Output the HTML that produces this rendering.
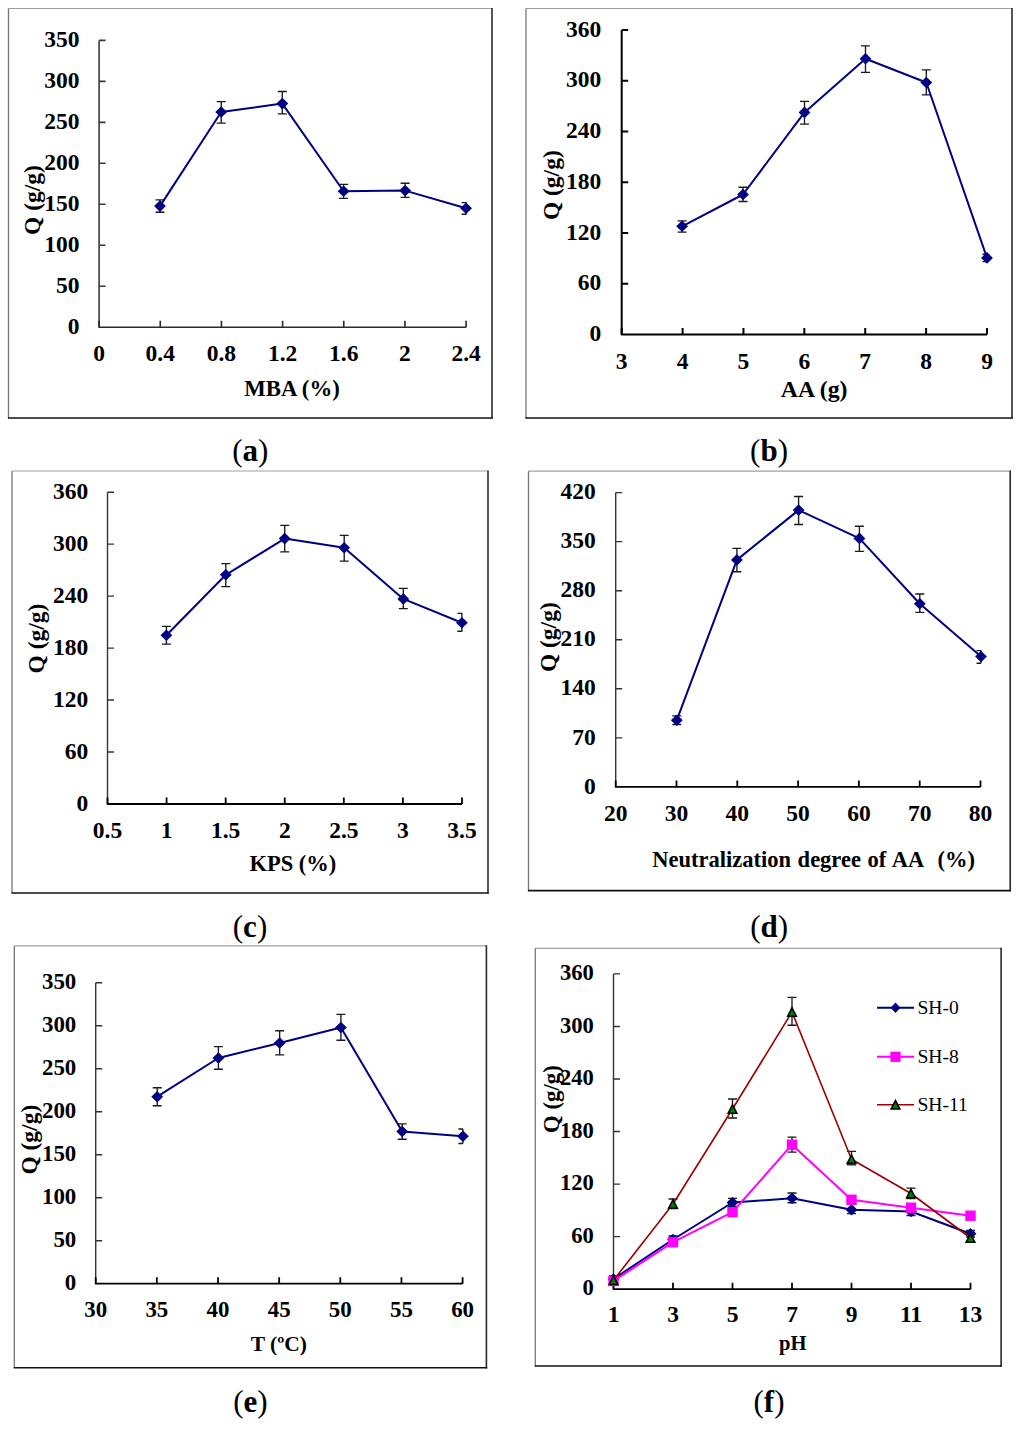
<!DOCTYPE html>
<html><head><meta charset="utf-8"><title>Figure</title>
<style>
html,body{margin:0;padding:0;background:#fff;}
body{width:1024px;height:1433px;overflow:hidden;}
svg{display:block;}
svg text{font-family:"Liberation Serif",serif;font-weight:bold;fill:#000;}
</style></head>
<body>
<svg width="1024" height="1433" viewBox="0 0 1024 1433">
<rect width="1024" height="1433" fill="#fff"/>
<line x1="8.5" y1="8.5" x2="492" y2="8.5" stroke="#a0a0a0" stroke-width="1.2"/>
<line x1="8.5" y1="8.5" x2="8.5" y2="418" stroke="#777" stroke-width="1.3"/>
<line x1="492" y1="7.9" x2="492" y2="418.6" stroke="#2a2a2a" stroke-width="1.6"/>
<line x1="7.9" y1="418" x2="492.8" y2="418" stroke="#111" stroke-width="1.6"/>
<path d="M99.1 40.4V327.2M99.1 286.23h6.5M99.1 245.26h6.5M99.1 204.29h6.5M99.1 163.31h6.5M99.1 122.34h6.5M99.1 81.37h6.5M99.1 40.4h6.5" fill="none" stroke="#3a3a3a" stroke-width="1.6"/>
<path d="M99.1 320.7V327.2H466.1M160.27 327.2v-6.5M221.43 327.2v-6.5M282.6 327.2v-6.5M343.77 327.2v-6.5M404.93 327.2v-6.5M466.1 327.2v-6.5" fill="none" stroke="#2a2a2a" stroke-width="1.6" stroke-linejoin="round"/>
<text x="79.6" y="334.27" text-anchor="end" font-size="23.5">0</text>
<text x="79.6" y="293.3" text-anchor="end" font-size="23.5">50</text>
<text x="79.6" y="252.33" text-anchor="end" font-size="23.5">100</text>
<text x="79.6" y="211.36" text-anchor="end" font-size="23.5">150</text>
<text x="79.6" y="170.39" text-anchor="end" font-size="23.5">200</text>
<text x="79.6" y="129.42" text-anchor="end" font-size="23.5">250</text>
<text x="79.6" y="88.44" text-anchor="end" font-size="23.5">300</text>
<text x="79.6" y="47.47" text-anchor="end" font-size="23.5">350</text>
<text x="99.1" y="361" text-anchor="middle" font-size="23.5">0</text>
<text x="160.27" y="361" text-anchor="middle" font-size="23.5">0.4</text>
<text x="221.43" y="361" text-anchor="middle" font-size="23.5">0.8</text>
<text x="282.6" y="361" text-anchor="middle" font-size="23.5">1.2</text>
<text x="343.77" y="361" text-anchor="middle" font-size="23.5">1.6</text>
<text x="404.93" y="361" text-anchor="middle" font-size="23.5">2</text>
<text x="466.1" y="361" text-anchor="middle" font-size="23.5">2.4</text>
<text x="292" y="396" text-anchor="middle" font-size="22.8" >MBA (%)</text>
<text transform="translate(40.3 200) rotate(-90)" x="0" y="0" text-anchor="middle" font-size="23.5">Q (g/g)</text>
<path d="M160 199.9V212.2M155.5 199.9H164.5M155.5 212.2H164.5M221.2 101.6V123.1M216.7 101.6H225.7M216.7 123.1H225.7M282.3 91.5V113.8M277.8 91.5H286.8M277.8 113.8H286.8M343.6 184.3V198.4M339.1 184.3H348.1M339.1 198.4H348.1M405.1 183.2V197.3M400.6 183.2H409.6M400.6 197.3H409.6M466.1 202.6V214.2M461.6 202.6H466.6M461.6 214.2H466.6" fill="none" stroke="#1a1a1a" stroke-width="1.35"/>
<path d="M160 206.1L221.2 112L282.3 103.6L343.6 191.3L405.1 190.6L466.1 208.2" fill="none" stroke="#000080" stroke-width="2.0" stroke-linejoin="round"/>
<path d="M160 200.3L165.9 206.1L160 211.9L154.1 206.1Z" fill="#000080"/><path d="M221.2 106.2L227.1 112L221.2 117.8L215.3 112Z" fill="#000080"/><path d="M282.3 97.8L288.2 103.6L282.3 109.4L276.4 103.6Z" fill="#000080"/><path d="M343.6 185.5L349.5 191.3L343.6 197.1L337.7 191.3Z" fill="#000080"/><path d="M405.1 184.8L411 190.6L405.1 196.4L399.2 190.6Z" fill="#000080"/><path d="M466.1 202.4L472 208.2L466.1 214L460.2 208.2Z" fill="#000080"/>
<line x1="526" y1="8.5" x2="1012" y2="8.5" stroke="#a0a0a0" stroke-width="1.2"/>
<line x1="526" y1="8.5" x2="526" y2="418" stroke="#777" stroke-width="1.3"/>
<line x1="1012" y1="7.9" x2="1012" y2="418.6" stroke="#2a2a2a" stroke-width="1.6"/>
<line x1="525.4" y1="418" x2="1012.8" y2="418" stroke="#111" stroke-width="1.6"/>
<path d="M621.7 29.9V334.5M621.7 283.73h6.5M621.7 232.97h6.5M621.7 182.2h6.5M621.7 131.43h6.5M621.7 80.67h6.5M621.7 29.9h6.5" fill="none" stroke="#000" stroke-width="2.0"/>
<path d="M621.7 328V334.5H987M682.58 334.5v-6.5M743.47 334.5v-6.5M804.35 334.5v-6.5M865.23 334.5v-6.5M926.12 334.5v-6.5M987 334.5v-6.5" fill="none" stroke="#000" stroke-width="2.0" stroke-linejoin="round"/>
<text x="601.2" y="341.17" text-anchor="end" font-size="23.5">0</text>
<text x="601.2" y="290.41" text-anchor="end" font-size="23.5">60</text>
<text x="601.2" y="239.64" text-anchor="end" font-size="23.5">120</text>
<text x="601.2" y="188.87" text-anchor="end" font-size="23.5">180</text>
<text x="601.2" y="138.11" text-anchor="end" font-size="23.5">240</text>
<text x="601.2" y="87.34" text-anchor="end" font-size="23.5">300</text>
<text x="601.2" y="36.57" text-anchor="end" font-size="23.5">360</text>
<text x="621.7" y="368.7" text-anchor="middle" font-size="23.5">3</text>
<text x="682.58" y="368.7" text-anchor="middle" font-size="23.5">4</text>
<text x="743.47" y="368.7" text-anchor="middle" font-size="23.5">5</text>
<text x="804.35" y="368.7" text-anchor="middle" font-size="23.5">6</text>
<text x="865.23" y="368.7" text-anchor="middle" font-size="23.5">7</text>
<text x="926.12" y="368.7" text-anchor="middle" font-size="23.5">8</text>
<text x="987" y="368.7" text-anchor="middle" font-size="23.5">9</text>
<text x="814.1" y="397.1" text-anchor="middle" font-size="23.8" >AA (g)</text>
<text transform="translate(558.6 185.2) rotate(-90)" x="0" y="0" text-anchor="middle" font-size="23.5">Q (g/g)</text>
<path d="M682.1 220.8V232.1M677.6 220.8H686.6M677.6 232.1H686.6M743 187.2V201.5M738.5 187.2H747.5M738.5 201.5H747.5M804.5 101.3V124.1M800 101.3H809M800 124.1H809M865.5 45.8V72.3M861 45.8H870M861 72.3H870M926.3 69.9V94.9M921.8 69.9H930.8M921.8 94.9H930.8M987 254.2V261.6M982.5 254.2H987.5M982.5 261.6H987.5" fill="none" stroke="#1a1a1a" stroke-width="1.35"/>
<path d="M682.1 226.3L743 194.5L804.5 112.4L865.5 58.8L926.3 82.5L987 257.9" fill="none" stroke="#000080" stroke-width="2.0" stroke-linejoin="round"/>
<path d="M682.1 220.5L688 226.3L682.1 232.1L676.2 226.3Z" fill="#000080"/><path d="M743 188.7L748.9 194.5L743 200.3L737.1 194.5Z" fill="#000080"/><path d="M804.5 106.6L810.4 112.4L804.5 118.2L798.6 112.4Z" fill="#000080"/><path d="M865.5 53L871.4 58.8L865.5 64.6L859.6 58.8Z" fill="#000080"/><path d="M926.3 76.7L932.2 82.5L926.3 88.3L920.4 82.5Z" fill="#000080"/><path d="M987 252.1L992.9 257.9L987 263.7L981.1 257.9Z" fill="#000080"/>
<text x="250.3" y="461.2" text-anchor="middle" font-size="31" style="font-weight:normal">(<tspan style="font-weight:bold">a</tspan>)</text>
<text x="769" y="461.2" text-anchor="middle" font-size="31" style="font-weight:normal">(<tspan style="font-weight:bold">b</tspan>)</text>
<line x1="12" y1="471" x2="488" y2="471" stroke="#a0a0a0" stroke-width="1.2"/>
<line x1="12" y1="471" x2="12" y2="893" stroke="#777" stroke-width="1.3"/>
<line x1="488" y1="470.4" x2="488" y2="893.6" stroke="#2a2a2a" stroke-width="1.6"/>
<line x1="11.4" y1="893" x2="488.8" y2="893" stroke="#111" stroke-width="1.6"/>
<path d="M107.5 492.2V804M107.5 752.03h6.5M107.5 700.07h6.5M107.5 648.1h6.5M107.5 596.13h6.5M107.5 544.17h6.5M107.5 492.2h6.5" fill="none" stroke="#333" stroke-width="1.4"/>
<path d="M107.5 797.5V804H462M166.58 804v-6.5M225.67 804v-6.5M284.75 804v-6.5M343.83 804v-6.5M402.92 804v-6.5M462 804v-6.5" fill="none" stroke="#000" stroke-width="1.8" stroke-linejoin="round"/>
<text x="88.3" y="811.27" text-anchor="end" font-size="23.5">0</text>
<text x="88.3" y="759.31" text-anchor="end" font-size="23.5">60</text>
<text x="88.3" y="707.34" text-anchor="end" font-size="23.5">120</text>
<text x="88.3" y="655.37" text-anchor="end" font-size="23.5">180</text>
<text x="88.3" y="603.41" text-anchor="end" font-size="23.5">240</text>
<text x="88.3" y="551.44" text-anchor="end" font-size="23.5">300</text>
<text x="88.3" y="499.47" text-anchor="end" font-size="23.5">360</text>
<text x="107.5" y="837.7" text-anchor="middle" font-size="23.5">0.5</text>
<text x="166.58" y="837.7" text-anchor="middle" font-size="23.5">1</text>
<text x="225.67" y="837.7" text-anchor="middle" font-size="23.5">1.5</text>
<text x="284.75" y="837.7" text-anchor="middle" font-size="23.5">2</text>
<text x="343.83" y="837.7" text-anchor="middle" font-size="23.5">2.5</text>
<text x="402.92" y="837.7" text-anchor="middle" font-size="23.5">3</text>
<text x="462" y="837.7" text-anchor="middle" font-size="23.5">3.5</text>
<text x="292.9" y="870.9" text-anchor="middle" font-size="22.5" >KPS (%)</text>
<text transform="translate(44.3 638.6) rotate(-90)" x="0" y="0" text-anchor="middle" font-size="23.5">Q (g/g)</text>
<path d="M166.4 626.4V644.1M161.9 626.4H170.9M161.9 644.1H170.9M225.8 563.6V586.6M221.3 563.6H230.3M221.3 586.6H230.3M284.7 525.3V551.9M280.2 525.3H289.2M280.2 551.9H289.2M344.2 535.3V561.1M339.7 535.3H348.7M339.7 561.1H348.7M403.3 588.4V608.6M398.8 588.4H407.8M398.8 608.6H407.8M461.9 613.3V631.25M457.4 613.3H462.4M457.4 631.25H462.4" fill="none" stroke="#1a1a1a" stroke-width="1.35"/>
<path d="M166.4 635.3L225.8 574.8L284.7 538.6L344.2 547.8L403.3 598.9L461.9 622.7" fill="none" stroke="#000080" stroke-width="2.0" stroke-linejoin="round"/>
<path d="M166.4 629.5L172.3 635.3L166.4 641.1L160.5 635.3Z" fill="#000080"/><path d="M225.8 569L231.7 574.8L225.8 580.6L219.9 574.8Z" fill="#000080"/><path d="M284.7 532.8L290.6 538.6L284.7 544.4L278.8 538.6Z" fill="#000080"/><path d="M344.2 542L350.1 547.8L344.2 553.6L338.3 547.8Z" fill="#000080"/><path d="M403.3 593.1L409.2 598.9L403.3 604.7L397.4 598.9Z" fill="#000080"/><path d="M461.9 616.9L467.8 622.7L461.9 628.5L456 622.7Z" fill="#000080"/>
<line x1="528.5" y1="471.2" x2="1010.2" y2="471.2" stroke="#a0a0a0" stroke-width="1.2"/>
<line x1="528.5" y1="471.2" x2="528.5" y2="890.6" stroke="#777" stroke-width="1.3"/>
<line x1="1010.2" y1="470.59999999999997" x2="1010.2" y2="891.2" stroke="#2a2a2a" stroke-width="1.6"/>
<line x1="527.9" y1="890.6" x2="1011.0" y2="890.6" stroke="#111" stroke-width="1.6"/>
<path d="M615.7 492.6V786.9M615.7 737.85h6.5M615.7 688.8h6.5M615.7 639.75h6.5M615.7 590.7h6.5M615.7 541.65h6.5M615.7 492.6h6.5" fill="none" stroke="#333" stroke-width="1.4"/>
<path d="M615.7 780.4V786.9H980.5M676.5 786.9v-6.5M737.3 786.9v-6.5M798.1 786.9v-6.5M858.9 786.9v-6.5M919.7 786.9v-6.5M980.5 786.9v-6.5" fill="none" stroke="#000" stroke-width="1.8" stroke-linejoin="round"/>
<text x="595.7" y="793.57" text-anchor="end" font-size="23.5">0</text>
<text x="595.7" y="744.52" text-anchor="end" font-size="23.5">70</text>
<text x="595.7" y="695.47" text-anchor="end" font-size="23.5">140</text>
<text x="595.7" y="646.42" text-anchor="end" font-size="23.5">210</text>
<text x="595.7" y="597.37" text-anchor="end" font-size="23.5">280</text>
<text x="595.7" y="548.32" text-anchor="end" font-size="23.5">350</text>
<text x="595.7" y="499.27" text-anchor="end" font-size="23.5">420</text>
<text x="615.7" y="821.1" text-anchor="middle" font-size="23.5">20</text>
<text x="676.5" y="821.1" text-anchor="middle" font-size="23.5">30</text>
<text x="737.3" y="821.1" text-anchor="middle" font-size="23.5">40</text>
<text x="798.1" y="821.1" text-anchor="middle" font-size="23.5">50</text>
<text x="858.9" y="821.1" text-anchor="middle" font-size="23.5">60</text>
<text x="919.7" y="821.1" text-anchor="middle" font-size="23.5">70</text>
<text x="980.5" y="821.1" text-anchor="middle" font-size="23.5">80</text>
<text x="813.6" y="866.9" text-anchor="middle" font-size="22.5" word-spacing="1.0">Neutralization degree of AA&#160; (%)</text>
<text transform="translate(555.5 637.2) rotate(-90)" x="0" y="0" text-anchor="middle" font-size="23.5">Q (g/g)</text>
<path d="M676.8 715.9V724.5M672.3 715.9H681.3M672.3 724.5H681.3M736.9 548.3V571.7M732.4 548.3H741.4M732.4 571.7H741.4M798.6 496.5V524.5M794.1 496.5H803.1M794.1 524.5H803.1M859.4 526.2V551.3M854.9 526.2H863.9M854.9 551.3H863.9M919.8 594V612.4M915.3 594H924.3M915.3 612.4H924.3M981 650.6V663.2M976.5 650.6H981M976.5 663.2H981" fill="none" stroke="#1a1a1a" stroke-width="1.35"/>
<path d="M676.8 720.2L736.9 559.9L798.6 510.1L859.4 538.4L919.8 603.75L981 656.5" fill="none" stroke="#000080" stroke-width="2.0" stroke-linejoin="round"/>
<path d="M676.8 714.4L682.7 720.2L676.8 726L670.9 720.2Z" fill="#000080"/><path d="M736.9 554.1L742.8 559.9L736.9 565.7L731 559.9Z" fill="#000080"/><path d="M798.6 504.3L804.5 510.1L798.6 515.9L792.7 510.1Z" fill="#000080"/><path d="M859.4 532.6L865.3 538.4L859.4 544.2L853.5 538.4Z" fill="#000080"/><path d="M919.8 597.95L925.7 603.75L919.8 609.55L913.9 603.75Z" fill="#000080"/><path d="M981 650.7L986.9 656.5L981 662.3L975.1 656.5Z" fill="#000080"/>
<text x="250" y="936.5" text-anchor="middle" font-size="31" style="font-weight:normal">(<tspan style="font-weight:bold">c</tspan>)</text>
<text x="769.1" y="936.5" text-anchor="middle" font-size="31" style="font-weight:normal">(<tspan style="font-weight:bold">d</tspan>)</text>
<line x1="14.3" y1="945.9" x2="486.4" y2="945.9" stroke="#a0a0a0" stroke-width="1.2"/>
<line x1="14.3" y1="945.9" x2="14.3" y2="1367.8" stroke="#777" stroke-width="1.3"/>
<line x1="486.4" y1="945.3" x2="486.4" y2="1368.3999999999999" stroke="#2a2a2a" stroke-width="1.6"/>
<line x1="13.700000000000001" y1="1367.8" x2="487.2" y2="1367.8" stroke="#111" stroke-width="1.6"/>
<path d="M95.7 982.8V1283.7M95.7 1240.71h6.5M95.7 1197.73h6.5M95.7 1154.74h6.5M95.7 1111.76h6.5M95.7 1068.77h6.5M95.7 1025.79h6.5M95.7 982.8h6.5" fill="none" stroke="#333" stroke-width="1.4"/>
<path d="M95.7 1277.2V1283.7H462.6M156.85 1283.7v-6.5M218 1283.7v-6.5M279.15 1283.7v-6.5M340.3 1283.7v-6.5M401.45 1283.7v-6.5M462.6 1283.7v-6.5" fill="none" stroke="#000" stroke-width="1.8" stroke-linejoin="round"/>
<text x="76.3" y="1290.37" text-anchor="end" font-size="22.9">0</text>
<text x="76.3" y="1247.39" text-anchor="end" font-size="22.9">50</text>
<text x="76.3" y="1204.4" text-anchor="end" font-size="22.9">100</text>
<text x="76.3" y="1161.41" text-anchor="end" font-size="22.9">150</text>
<text x="76.3" y="1118.43" text-anchor="end" font-size="22.9">200</text>
<text x="76.3" y="1075.44" text-anchor="end" font-size="22.9">250</text>
<text x="76.3" y="1032.46" text-anchor="end" font-size="22.9">300</text>
<text x="76.3" y="989.47" text-anchor="end" font-size="22.9">350</text>
<text x="95.7" y="1317.3" text-anchor="middle" font-size="22.9">30</text>
<text x="156.85" y="1317.3" text-anchor="middle" font-size="22.9">35</text>
<text x="218" y="1317.3" text-anchor="middle" font-size="22.9">40</text>
<text x="279.15" y="1317.3" text-anchor="middle" font-size="22.9">45</text>
<text x="340.3" y="1317.3" text-anchor="middle" font-size="22.9">50</text>
<text x="401.45" y="1317.3" text-anchor="middle" font-size="22.9">55</text>
<text x="462.6" y="1317.3" text-anchor="middle" font-size="22.9">60</text>
<text x="278.9" y="1351.25" text-anchor="middle" font-size="21.5" >T (&#186;C)</text>
<text transform="translate(37.3 1139.7) rotate(-90)" x="0" y="0" text-anchor="middle" font-size="23.5">Q (g/g)</text>
<path d="M157.2 1087.7V1105.7M152.7 1087.7H161.7M152.7 1105.7H161.7M218.4 1046.6V1069.2M213.9 1046.6H222.9M213.9 1069.2H222.9M279.65 1030.7V1054.8M275.15 1030.7H284.15M275.15 1054.8H284.15M340.9 1014.4V1040.2M336.4 1014.4H345.4M336.4 1040.2H345.4M402.2 1123.8V1139.2M397.7 1123.8H406.7M397.7 1139.2H406.7M462.9 1129V1143.5M458.4 1129H463M458.4 1143.5H463" fill="none" stroke="#1a1a1a" stroke-width="1.35"/>
<path d="M157.2 1096.7L218.4 1058L279.65 1043L340.9 1027.5L402.2 1131.5L462.9 1136.2" fill="none" stroke="#000080" stroke-width="2.0" stroke-linejoin="round"/>
<path d="M157.2 1090.9L163.1 1096.7L157.2 1102.5L151.3 1096.7Z" fill="#000080"/><path d="M218.4 1052.2L224.3 1058L218.4 1063.8L212.5 1058Z" fill="#000080"/><path d="M279.65 1037.2L285.55 1043L279.65 1048.8L273.75 1043Z" fill="#000080"/><path d="M340.9 1021.7L346.8 1027.5L340.9 1033.3L335 1027.5Z" fill="#000080"/><path d="M402.2 1125.7L408.1 1131.5L402.2 1137.3L396.3 1131.5Z" fill="#000080"/><path d="M462.9 1130.4L468.8 1136.2L462.9 1142L457 1136.2Z" fill="#000080"/>
<line x1="535.3" y1="948.3" x2="1001.1" y2="948.3" stroke="#a0a0a0" stroke-width="1.2"/>
<line x1="535.3" y1="948.3" x2="535.3" y2="1366" stroke="#777" stroke-width="1.3"/>
<line x1="1001.1" y1="947.6999999999999" x2="1001.1" y2="1366.6" stroke="#2a2a2a" stroke-width="1.6"/>
<line x1="534.6999999999999" y1="1366" x2="1001.9" y2="1366" stroke="#111" stroke-width="1.6"/>
<path d="M613.5 973.9V1289.2M613.5 1236.65h6.5M613.5 1184.1h6.5M613.5 1131.55h6.5M613.5 1079h6.5M613.5 1026.45h6.5M613.5 973.9h6.5" fill="none" stroke="#333" stroke-width="1.4"/>
<path d="M613.5 1282.7V1289.2H970.5M673 1289.2v-6.5M732.5 1289.2v-6.5M792 1289.2v-6.5M851.5 1289.2v-6.5M911 1289.2v-6.5M970.5 1289.2v-6.5" fill="none" stroke="#000" stroke-width="1.8" stroke-linejoin="round"/>
<text x="593.9" y="1295.27" text-anchor="end" font-size="22.6">0</text>
<text x="593.9" y="1242.72" text-anchor="end" font-size="22.6">60</text>
<text x="593.9" y="1190.17" text-anchor="end" font-size="22.6">120</text>
<text x="593.9" y="1137.62" text-anchor="end" font-size="22.6">180</text>
<text x="593.9" y="1085.07" text-anchor="end" font-size="22.6">240</text>
<text x="593.9" y="1032.52" text-anchor="end" font-size="22.6">300</text>
<text x="593.9" y="979.97" text-anchor="end" font-size="22.6">360</text>
<text x="613.5" y="1322.1" text-anchor="middle" font-size="23.5">1</text>
<text x="673" y="1322.1" text-anchor="middle" font-size="23.5">3</text>
<text x="732.5" y="1322.1" text-anchor="middle" font-size="23.5">5</text>
<text x="792" y="1322.1" text-anchor="middle" font-size="23.5">7</text>
<text x="851.5" y="1322.1" text-anchor="middle" font-size="23.5">9</text>
<text x="911" y="1322.1" text-anchor="middle" font-size="23.5">11</text>
<text x="970.5" y="1322.1" text-anchor="middle" font-size="23.5">13</text>
<text x="792.8" y="1350.3" text-anchor="middle" font-size="20.6" >pH</text>
<text transform="translate(558.9 1099.1) rotate(-90)" x="0" y="0" text-anchor="middle" font-size="22.8">Q (g/g)</text>
<path d="M613.5 1276V1282M609 1276H618M609 1282H618M673 1236V1243M668.5 1236H677.5M668.5 1243H677.5M732.5 1198.3V1206.5M728 1198.3H737M728 1206.5H737M792 1193V1202.7M787.5 1193H796.5M787.5 1202.7H796.5M851.5 1204V1213.6M847 1204H856M847 1213.6H856M911 1207.5V1215.5M906.5 1207.5H915.5M906.5 1215.5H915.5M970.5 1230.5V1237M966 1230.5H975M966 1237H975" fill="none" stroke="#1a1a1a" stroke-width="1.35"/>
<path d="M613.5 1279L673 1239.5L732.5 1202.5L792 1198.3L851.5 1209.7L911 1211.5L970.5 1233.8" fill="none" stroke="#000080" stroke-width="2.0" stroke-linejoin="round"/>
<path d="M613.5 1273.2L619.4 1279L613.5 1284.8L607.6 1279Z" fill="#000080"/><path d="M673 1233.7L678.9 1239.5L673 1245.3L667.1 1239.5Z" fill="#000080"/><path d="M732.5 1196.7L738.4 1202.5L732.5 1208.3L726.6 1202.5Z" fill="#000080"/><path d="M792 1192.5L797.9 1198.3L792 1204.1L786.1 1198.3Z" fill="#000080"/><path d="M851.5 1203.9L857.4 1209.7L851.5 1215.5L845.6 1209.7Z" fill="#000080"/><path d="M911 1205.7L916.9 1211.5L911 1217.3L905.1 1211.5Z" fill="#000080"/><path d="M970.5 1228L976.4 1233.8L970.5 1239.6L964.6 1233.8Z" fill="#000080"/>
<path d="M792 1137.1V1152.1M787.5 1137.1H796.5M787.5 1152.1H796.5M851.5 1196V1203.5M847 1196H856M847 1203.5H856" fill="none" stroke="#1a1a1a" stroke-width="1.35"/>
<path d="M613.5 1281L673 1242.2L732.5 1212.2L792 1144.7L851.5 1199.8L911 1207.7L970.5 1215.7" fill="none" stroke="#ff00ff" stroke-width="2.0" stroke-linejoin="round"/>
<rect x="608.3" y="1275.8" width="10.4" height="10.4" fill="#ff00ff"/><rect x="667.8" y="1237" width="10.4" height="10.4" fill="#ff00ff"/><rect x="727.3" y="1207" width="10.4" height="10.4" fill="#ff00ff"/><rect x="786.8" y="1139.5" width="10.4" height="10.4" fill="#ff00ff"/><rect x="846.3" y="1194.6" width="10.4" height="10.4" fill="#ff00ff"/><rect x="905.8" y="1202.5" width="10.4" height="10.4" fill="#ff00ff"/><rect x="965.3" y="1210.5" width="10.4" height="10.4" fill="#ff00ff"/>
<path d="M673 1199V1208.5M668.5 1199H677.5M668.5 1208.5H677.5M732.5 1099V1118M728 1099H737M728 1118H737M792 997.4V1025.2M787.5 997.4H796.5M787.5 1025.2H796.5M851.5 1151.3V1164.9M847 1151.3H856M847 1164.9H856M911 1188.1V1198.5M906.5 1188.1H915.5M906.5 1198.5H915.5" fill="none" stroke="#1a1a1a" stroke-width="1.35"/>
<path d="M613.5 1280.3L673 1204L732.5 1109L792 1012L851.5 1159.2L911 1193.5L970.5 1238" fill="none" stroke="#990000" stroke-width="1.6" stroke-linejoin="round"/>
<path d="M613.5 1276.1L617.8 1284.5L609.2 1284.5Z" fill="#008000" stroke="#000" stroke-width="1.6" stroke-linejoin="miter"/><path d="M673 1199.8L677.3 1208.2L668.7 1208.2Z" fill="#008000" stroke="#000" stroke-width="1.6" stroke-linejoin="miter"/><path d="M732.5 1104.8L736.8 1113.2L728.2 1113.2Z" fill="#008000" stroke="#000" stroke-width="1.6" stroke-linejoin="miter"/><path d="M792 1007.8L796.3 1016.2L787.7 1016.2Z" fill="#008000" stroke="#000" stroke-width="1.6" stroke-linejoin="miter"/><path d="M851.5 1155L855.8 1163.4L847.2 1163.4Z" fill="#008000" stroke="#000" stroke-width="1.6" stroke-linejoin="miter"/><path d="M911 1189.3L915.3 1197.7L906.7 1197.7Z" fill="#008000" stroke="#000" stroke-width="1.6" stroke-linejoin="miter"/><path d="M970.5 1233.8L974.8 1242.2L966.2 1242.2Z" fill="#008000" stroke="#000" stroke-width="1.6" stroke-linejoin="miter"/>
<line x1="877" y1="1007.8" x2="914" y2="1007.8" stroke="#000080" stroke-width="2.0"/>
<path d="M895.5 1002.5L900.4 1007.8L895.5 1013.1L890.6 1007.8Z" fill="#000080"/>
<text x="917.4" y="1014.0" font-size="19.6" style="font-weight:normal">SH-0</text>
<line x1="877" y1="1056.8" x2="914" y2="1056.8" stroke="#ff00ff" stroke-width="2.0"/>
<rect x="890.4" y="1051.7" width="10.2" height="10.2" fill="#ff00ff"/>
<text x="917.4" y="1062.7" font-size="19.6" style="font-weight:normal">SH-8</text>
<line x1="877" y1="1104.8" x2="914" y2="1104.8" stroke="#990000" stroke-width="1.6"/>
<path d="M895.5 1100.6L899.8 1109L891.2 1109Z" fill="#008000" stroke="#000" stroke-width="1.6" stroke-linejoin="miter"/>
<text x="917.4" y="1110.7" font-size="19.6" style="font-weight:normal">SH-11</text>
<text x="250.4" y="1411.5" text-anchor="middle" font-size="31" style="font-weight:normal">(<tspan style="font-weight:bold">e</tspan>)</text>
<text x="769" y="1411.5" text-anchor="middle" font-size="31" style="font-weight:normal">(<tspan style="font-weight:bold">f</tspan>)</text>
</svg>
</body></html>
